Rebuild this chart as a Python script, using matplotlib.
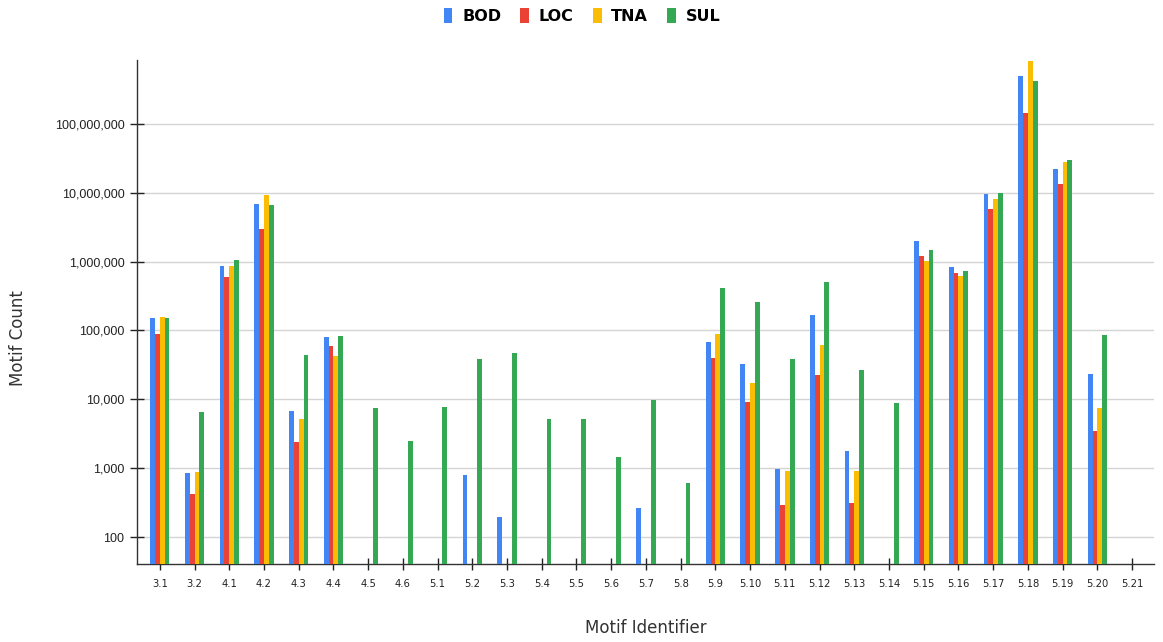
import numpy as np
import matplotlib
matplotlib.use("Agg")
import matplotlib.pyplot as plt
from matplotlib.ticker import FixedLocator, FuncFormatter, NullLocator
from matplotlib.patches import Patch

# Motif identifiers along the x axis
motifs = ["3.1", "3.2", "4.1", "4.2", "4.3", "4.4", "4.5", "4.6", "5.1", "5.2",
          "5.3", "5.4", "5.5", "5.6", "5.7", "5.8", "5.9", "5.10", "5.11", "5.12",
          "5.13", "5.14", "5.15", "5.16", "5.17", "5.18", "5.19", "5.20", "5.21"]

nan = np.nan
# Motif counts per dataset (nan = no occurrences)
bod = [154000, 850, 867000, 6950000, 6800, 79000, nan, nan, nan, 783,
       195, nan, nan, nan, 260, nan, 67600, 32400, 970, 170000,
       1750, nan, 2020000, 838000, 9600000, 491000000, 21900000, 23400, nan]
loc = [90000, 415, 605000, 2980000, 2400, 59000, nan, nan, nan, nan,
       nan, nan, nan, nan, nan, nan, 39600, 9100, 291, 22500,
       311, nan, 1220000, 679000, 5870000, 142600000, 13300000, 3490, nan]
tna = [159000, 866, 867000, 9200000, 5200, 42800, nan, nan, nan, nan,
       nan, nan, nan, nan, nan, nan, 90000, 17200, 908, 61000,
       908, nan, 1030000, 614000, 8050000, 811000000, 27700000, 7500, nan]
sul = [154000, 6500, 1070000, 6580000, 44000, 83000, 7500, 2500, 7800, 38300,
       47800, 5100, 5100, 1430, 9700, 608, 411000, 260000, 38300, 513000,
       27000, 8700, 1480000, 726000, 9900000, 424000000, 29900000, 86000, nan]

series_names = ["BOD", "LOC", "TNA", "SUL"]
series_values = [bod, loc, tna, sul]
colors = ["#4285F4", "#EA4335", "#FBBC04", "#34A853"]

yticks = [100, 1000, 10000, 100000, 1000000, 10000000, 100000000]

W, H = 1163, 642
fig = plt.figure(figsize=(W / 100, H / 100), dpi=100)
ax = fig.add_axes([137 / W, 1 - 564 / H, (1154 - 137) / W, (564 - 60) / H])

x = np.arange(len(motifs))
bw = 0.139
for i, (name, vals, col) in enumerate(zip(series_names, series_values, colors)):
    v = np.array(vals, dtype=float)
    m = ~np.isnan(v)
    ax.bar(x[m] + (i - 1.5) * bw, v[m], width=bw, bottom=1, color=col,
           linewidth=0, zorder=3, label=name)

ax.set_yscale("log")
ax.set_ylim(40.6, 8.45e8)
ax.set_xlim(-0.656, len(motifs) - 1 + 0.63)

ax.yaxis.set_major_locator(FixedLocator(yticks))
ax.yaxis.set_minor_locator(NullLocator())
ax.yaxis.set_major_formatter(FuncFormatter(lambda v, p: f"{int(round(v)):,}"))
ax.set_xticks(x)
ax.set_xticklabels(motifs)

ax.grid(axis="y", color="#d4d4d4", linewidth=1.0, zorder=0)
ax.set_axisbelow(True)

for s in ["top", "right"]:
    ax.spines[s].set_visible(False)
for s in ["left", "bottom"]:
    ax.spines[s].set_color("#333333")
    ax.spines[s].set_linewidth(1.0)

ax.tick_params(axis="y", direction="inout", length=10, width=1.0, color="#222222",
               pad=4, labelsize=9, labelcolor="#222222")
ax.tick_params(axis="x", direction="inout", length=9, width=1.0, color="#222222",
               pad=6, labelsize=8, labelcolor="#222222")
for lab in ax.get_yticklabels():
    lab.set_fontfamily("Liberation Sans")
for lab in ax.get_xticklabels():
    lab.set_fontfamily("DejaVu Sans")
    lab.set_fontstretch("condensed")

fig.text(18 / W, 1 - 338 / H, "Motif Count", rotation=90, ha="center", va="center",
         fontsize=12, color="#333333", family="DejaVu Sans")
fig.text(646 / W, 1 - 628 / H, "Motif Identifier", ha="center", va="center",
         fontsize=12, color="#333333", family="DejaVu Sans")

handles = [Patch(facecolor=c, edgecolor="none", label=n) for n, c in zip(series_names, colors)]
fig.legend(handles=handles, loc="center", bbox_to_anchor=(582 / W, 1 - 16 / H), ncol=4,
           frameon=False, handlelength=0.55, handleheight=1.1, handletextpad=0.6,
           columnspacing=1.2, prop={"family": "DejaVu Sans", "weight": "bold", "size": 11.5})

fig.savefig("out.png", dpi=100)
